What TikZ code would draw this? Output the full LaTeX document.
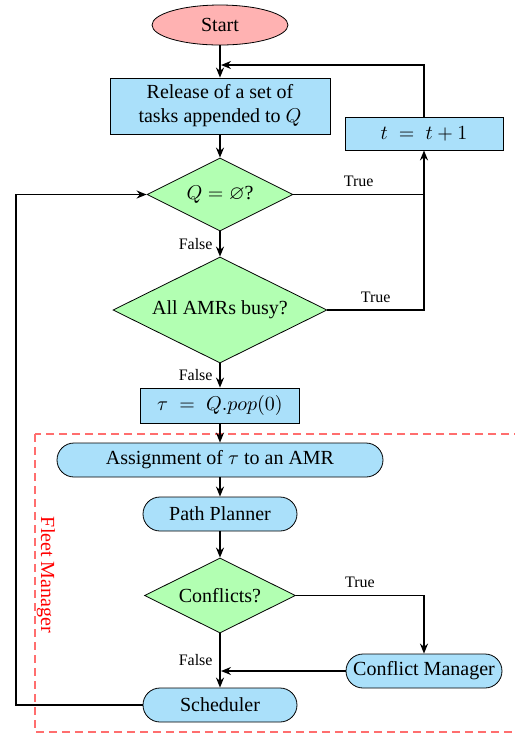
\documentclass[tikz,border=0pt]{standalone}
\usepackage{amssymb}
\usepackage{fontspec}
\setmainfont{Liberation Serif}
\usetikzlibrary{shapes.geometric,arrows.meta}

\definecolor{procblue}{RGB}{170,224,250}
\definecolor{decgreen}{RGB}{178,255,178}
\definecolor{termred}{RGB}{255,178,178}
\definecolor{fleetred}{RGB}{255,110,110}

\tikzset{
  termnode/.style={ellipse, draw, fill=termred, minimum width=68pt, minimum height=20pt, inner sep=0pt},
  procbox/.style={rectangle, draw, fill=procblue, inner sep=0pt, align=center},
  roundbox/.style={rectangle, rounded corners=8.5pt, draw, fill=procblue, minimum height=17pt, inner sep=0pt},
  decision/.style={diamond, aspect=2, draw, fill=decgreen, inner sep=0pt},
  flow/.style={thick, -{Stealth[length=5pt,width=4pt]}},
  plainline/.style={thick},
  branch/.style={font=\footnotesize},
  fleet/.style={draw=fleetred, line width=0.8pt, dash pattern=on 4pt off 2.5pt}
}

\begin{document}
\begin{tikzpicture}[x=0.5pt, y=-0.5pt]
  \clip (0,0) rectangle (515,736);

  % nodes
  \node[termnode] (start) at (220,25) {Start};
  \node[procbox, minimum width=110pt, minimum height=28pt] (release) at (220,106)
    {Release of a set of\\ tasks appended to $Q$};
  \node[procbox, minimum width=79pt, minimum height=16.5pt] (tinc) at (424,133.5) {$t \;=\; t + 1$};
  \node[decision, minimum width=73pt, minimum height=36.5pt] (qempty) at (220,194.5) {$Q = \varnothing$?};
  \node[decision, minimum width=107pt, minimum height=53pt] (busy) at (220,310) {All AMRs busy?};
  \node[procbox, minimum width=79.5pt, minimum height=17.5pt] (pop) at (220,405.5) {$\tau \;=\; Q.pop(0)$};
  \node[roundbox, minimum width=163pt] (assign) at (220,460) {Assignment of $\tau$ to an AMR};
  \node[roundbox, minimum width=77pt] (planner) at (220,514) {Path Planner};
  \node[decision, minimum width=75.5pt, minimum height=37.5pt] (conflicts) at (220,595.5) {Conflicts?};
  \node[roundbox, minimum width=78pt] (cmgr) at (424,671) {Conflict Manager};
  \node[roundbox, minimum width=77pt] (sched) at (220,705) {Scheduler};

  % helper points
  \coordinate (looptop) at (221,65);
  \coordinate (truejoin) at (424,194.5);
  \coordinate (leftturn) at (16,705);
  \coordinate (mergept) at (221,671);

  % fleet manager frame
  \draw[fleet] (35,434) rectangle (520,732);
  \node[red, rotate=-90, inner sep=0pt, anchor=center] (fleetlabel) at (46,575) {Fleet Manager};

  % connectors
  \draw[flow] (start) -- (release);
  \draw[flow] (tinc.north) |- (looptop);
  \draw[flow] (release) -- (qempty);
  \draw[flow] (qempty.east) -| node[branch, pos=0.25, above] {True} (tinc.south);
  \draw[plainline] (busy.east) -| node[branch, pos=0.25, above] {True} (truejoin);
  \draw[flow] (qempty.south) -- node[branch, left] {False} (busy.north);
  \draw[flow] (busy.south) -- node[branch, left] {False} (pop.north);
  \draw[flow] (pop) -- (assign);
  \draw[flow] (assign) -- (planner);
  \draw[flow] (planner) -- (conflicts);
  \draw[flow] (conflicts.east) -| node[branch, pos=0.25, above] {True} (cmgr.north);
  \draw[flow] (conflicts.south) -- node[branch, left, pos=0.5] {False} (sched.north);
  \draw[flow] (cmgr.west) -- (mergept);
  \draw[flow] (sched.west) -- (leftturn) |- (qempty.west);
\end{tikzpicture}
\end{document}
